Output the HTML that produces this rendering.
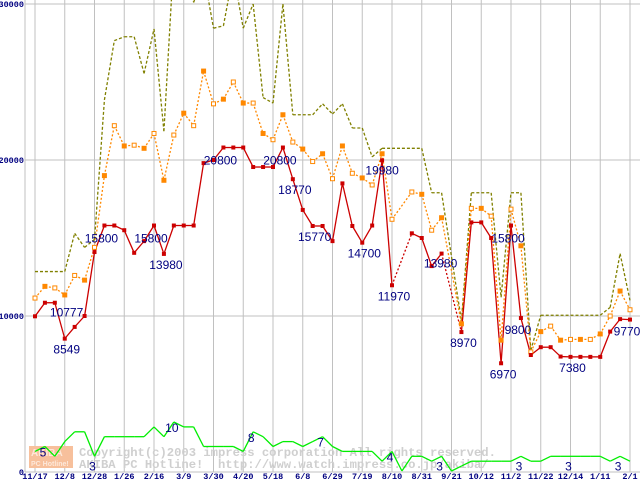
<!DOCTYPE html>
<html><head><meta charset="utf-8"><style>
html,body{margin:0;padding:0;background:#fff;width:640px;height:480px;overflow:hidden}
svg{display:block}
</style></head><body>
<svg id="chart" width="640" height="480" viewBox="0 0 640 480" xmlns="http://www.w3.org/2000/svg">
<g id="grid"></g>
<g id="watermark">
  <rect x="29" y="446" width="44" height="22" fill="#f7c09c"/>
  <text x="31" y="456" font-family="Liberation Sans, sans-serif" font-weight="bold" font-size="10" fill="#fde8da">AKIBA</text>
  <text x="31" y="466" font-family="Liberation Sans, sans-serif" font-weight="bold" font-size="7" fill="#fde8da">PC Hotline!</text>
  <text x="79" y="456" font-family="Liberation Mono, monospace" font-weight="bold" font-size="12.2" fill="#cfcfcf" xml:space="preserve">Copyright(c)2003 impress corporation All rights reserved.</text>
  <text x="79" y="468" font-family="Liberation Mono, monospace" font-weight="bold" font-size="12.2" fill="#cfcfcf" xml:space="preserve">AKIBA PC Hotline!  http://www.watch.impress.co.jp/akiba/</text>
</g>
<g id="series"></g>
<g id="labels"></g>
</svg>
<script>
const tickLabels = ["11/17","12/8","12/28","1/26","2/16","3/9","3/30","4/20","5/18","6/8","6/29","7/19","8/10","8/31","9/21","10/12","11/2","11/22","12/14","1/11","2/1"];
const yTicks = [0,10000,20000,30000];
const minPrice = [9980,10850,10850,8549,9300,10000,14100,15800,15800,15500,
 14050,14800,15800,13980,15800,15800,15800,19800,20000,20800,
 20800,20800,19550,19550,19550,20800,18770,16800,15770,15770,
 14800,18500,15770,14700,15800,19980,11970,null,15300,15000,
 13200,14000,null,8970,16000,16000,15000,6970,15800,9870,
 7500,8000,8000,7400,7380,7380,7380,7380,9000,9800,9770];
const avgPrice = [11150,11900,11800,11350,12600,12300,14400,19000,22200,20900,
 20950,20750,21700,18700,21600,23000,22200,25700,23600,23900,
 25000,23650,23650,21700,21300,22900,21150,20700,19900,20400,
 18800,20900,19150,18850,18400,20400,16200,null,17950,17800,
 15500,16300,null,9500,16900,16900,16400,8450,16850,14500,
 7700,9000,9350,8450,8500,8500,8500,8850,10000,11600,10400];
const maxPrice = [12850,12850,12850,12850,15300,14400,14900,23850,27650,27900,
 27900,25550,28400,21850,33000,33000,30100,32000,28450,28600,
 32000,28450,30000,24000,23650,30000,22900,22900,22900,23600,
 22950,23600,22050,22050,20200,20750,20750,20750,20750,20750,
 17900,17900,null,9700,17900,17900,17900,11200,17900,17900,
 7800,10050,10050,10050,10050,10050,10050,10050,10550,14000,11000];
const shopCount = [4,5,3,6,8,8,3,7,7,7, 7,7,9,7,10,9,9,5,5,5,
 5,4,8,7,5,6,6,5,6,7, 5,4,4,4,4,2,4,0,3,3,
 2,3,0,1,2,2,2,2,2,3, 2,2,3,3,3,3,3,3,2,3,2];
const priceLabels = [[1,"10777"],[3,"8549"],[7,"15800"],[12,"15800"],[13,"13980"],[19,"20800"],[25,"20800"],[26,"18770"],[28,"15770"],[33,"14700"],[35,"19980"],[36,"11970"],[41,"13980"],[43,"8970"],[47,"6970"],[48,"15800"],[49,"9800"],[54,"7380"],[60,"9770"]];
const countLabels = [[1,"5"],[6,"3"],[14,"10"],[22,"8"],[29,"7"],[36,"4"],[41,"3"],[49,"3"],[54,"3"],[59,"3"]];

const NS="http://www.w3.org/2000/svg";
const N=minPrice.length;
function xs(i){return 35+i*(595/(N-1));}
function ys(v){return 472-v*156/10000;}
function yc(v){return 471-v*4.9;}
function mk(tag,attrs,parent){const e=document.createElementNS(NS,tag);for(const k in attrs)e.setAttribute(k,attrs[k]);parent.appendChild(e);return e;}
const grid=document.getElementById('grid'),ser=document.getElementById('series'),lab=document.getElementById('labels');

yTicks.forEach(v=>{
  const l=mk('line',{x1:25,x2:640,y1:ys(v),y2:ys(v),stroke:'#c0c0c0','stroke-width':1},grid);
  
  
  const t=mk('text',{x:24,y:ys(v)+3,'text-anchor':'end','font-family':'Liberation Mono, monospace','font-size':8.5,'font-weight':'bold',fill:'#000080'},grid);
  t.textContent=String(v);
  
  
});
const ax=mk('line',{x1:25,x2:25,y1:0,y2:472,stroke:'#c0c0c0'},grid);


tickLabels.forEach((s,k)=>{
  const x=xs(k*3);
  const l=mk('line',{x1:x,x2:x,y1:0,y2:472,stroke:'#c0c0c0'},grid);
  
  
  const t=mk('text',{x:x,y:479,'text-anchor':'middle','font-family':'Liberation Mono, monospace','font-size':8.5,'font-weight':'bold',fill:'#000080'},grid);
  t.textContent=s;
  
  
});

function drawLine(arr,yf,color,dash,name,gapDash){
  let prev=null;
  for(let i=0;i<arr.length;i++){
    if(arr[i]==null)continue;
    if(prev!==null){
      const gap=(i-prev)>1;
      const l=mk('line',{x1:xs(prev),y1:yf(arr[prev]),x2:xs(i),y2:yf(arr[i]),stroke:color,'stroke-width':1.3},ser);
      const d=gap?gapDash:dash;
      if(d)l.setAttribute('stroke-dasharray',d);
      
      
    }
    prev=i;
  }
}
drawLine(shopCount,yc,'#00ee00',null,'shop-count-line',null);
drawLine(maxPrice,ys,'#808000','3,2','max-price-line','3,2');
drawLine(avgPrice,ys,'#ff8800','2,2','avg-price-line','2,2');
drawLine(minPrice,ys,'#cc0000',null,'min-price-line','2,2');
avgPrice.forEach((v,i)=>{ if(v==null)return;
  const r=mk('rect',{x:xs(i)-2,y:ys(v)-2,width:4,height:4,fill:(i%2?'#ff8800':'#fff'),stroke:'#ff8800','stroke-width':1},ser);
  
  
});
minPrice.forEach((v,i)=>{ if(v==null)return;
  const r=mk('rect',{x:xs(i)-2,y:ys(v)-2,width:4,height:4,fill:'#cc0000'},ser);
  
  
});
priceLabels.forEach(([i,s])=>{
  const t=mk('text',{x:xs(i)+5,y:ys(minPrice[i])+(i==1?14:17),'text-anchor':'start','font-family':'Liberation Sans, sans-serif','font-size':12,fill:'#000080'},lab);
  if([7,12,19,25,48].includes(i)){t.setAttribute('text-anchor','middle');t.setAttribute('x',xs(i)-3);t.setAttribute('y',ys(minPrice[i])+17);}
  if([3,13,26,28,33,36,43,47,54].includes(i)){t.setAttribute('text-anchor','middle');t.setAttribute('x',xs(i)+2);t.setAttribute('y',ys(minPrice[i])+15);}
  if(i==41){t.setAttribute('text-anchor','middle');t.setAttribute('x',xs(i)-1);t.setAttribute('y',ys(minPrice[i])+14);}
  if(i==35){t.setAttribute('text-anchor','middle');t.setAttribute('x',xs(i));t.setAttribute('y',ys(minPrice[i])+14);}
  if(i==49||i==60){t.setAttribute('text-anchor','middle');t.setAttribute('x',xs(i)-3);t.setAttribute('y',ys(minPrice[i])+16);}
  t.textContent=s;
  
  
});
countLabels.forEach(([i,s])=>{
  const t=mk('text',{x:xs(i)-2,y:yc(shopCount[i])+(s=="3"?14:10),'text-anchor':'middle','font-family':'Liberation Sans, sans-serif','font-size':12,fill:'#000080'},lab);
  t.textContent=s;
  
  
});
</script>
</body></html>
